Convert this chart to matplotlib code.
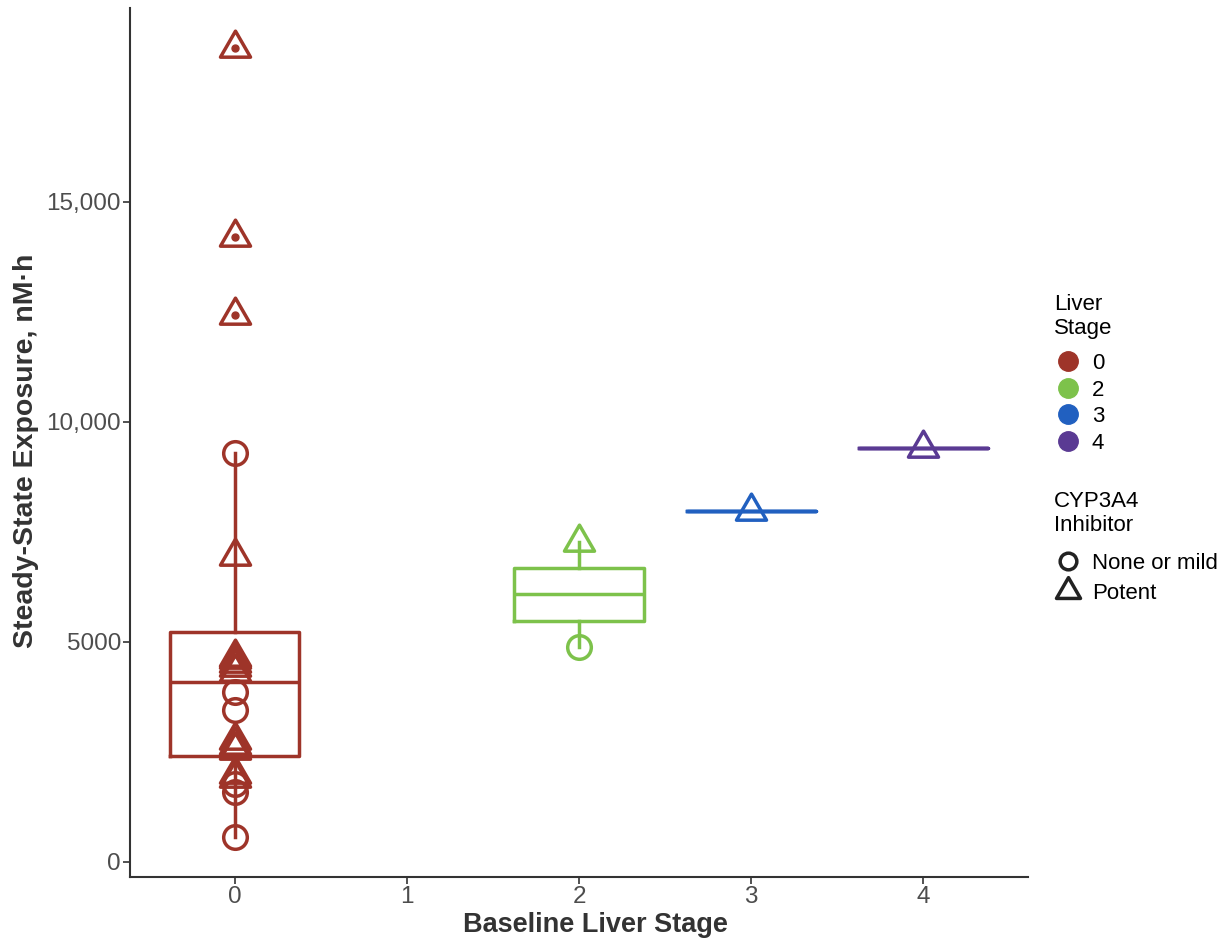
import numpy as np
import matplotlib.pyplot as plt
from matplotlib.path import Path
from matplotlib.lines import Line2D

plt.rcParams['font.family'] = ['Liberation Sans', 'DejaVu Sans']

# data
stages = [0, 2, 3, 4]
stage_labels = ['0', '2', '3', '4']
colors = ['#9E3429', '#7DC24B', '#2160C0', '#5A3A93']
none_mild = [
    [570, 1600, 1780, 3450, 3870, 9300],
    [4880],
    [],
    [],
]
potent = [
    [1900, 2000, 2545, 2650, 2780, 4312, 4430, 4520, 4600, 4660, 6950, 12430, 14200, 18500],
    [7280],
    [7980],
    [9410],
]
yticks = [0, 5000, 10000, 15000]
ytick_labels = ['0', '5000', '10,000', '15,000']

# triangle centred on its centroid, like ggplot's shape 2
tri = Path([(0, 2), (-1.732, -1), (1.732, -1), (0, 2)],
           [Path.MOVETO, Path.LINETO, Path.LINETO, Path.CLOSEPOLY])

fig = plt.figure(figsize=(12.31, 9.41), dpi=100)
ax = fig.add_axes([130 / 1231, 64 / 941, 898 / 1231, 869 / 941])

lw = 2.5
for st, col, a, b in zip(stages, colors, none_mild, potent):
    vals = a + b
    ax.boxplot([vals], positions=[st], widths=0.75, showcaps=False,
               boxprops=dict(color=col, lw=lw),
               whiskerprops=dict(color=col, lw=lw),
               medianprops=dict(color=col, lw=lw),
               flierprops=dict(marker='o', mfc=col, mec=col, ms=5))
    if a:
        ax.plot([st] * len(a), a, ls='none', marker='o', ms=17, mfc='none',
                mec=col, mew=lw, zorder=4)
    if b:
        ax.plot([st] * len(b), b, ls='none', marker=tri, ms=25, mfc='none',
                mec=col, mew=lw, zorder=4)

ax.set_xlim(-0.61, 4.61)
ax.set_ylim(-341, 19400)
ax.set_xticks([0, 1, 2, 3, 4])
ax.set_xticklabels(['0', '1', '2', '3', '4'])
ax.set_yticks(yticks)
ax.set_yticklabels(ytick_labels)
for s in ['top', 'right']:
    ax.spines[s].set_visible(False)
for s in ['left', 'bottom']:
    ax.spines[s].set_color('#333333')
    ax.spines[s].set_linewidth(1.5)
ax.tick_params(colors='#333333', labelcolor='#4D4D4D', length=5, width=1.2,
               labelsize=17.5, pad=1.5)
ax.set_xlabel('Baseline Liver Stage', fontsize=19.5, fontweight='bold',
              color='#333333')
ax.set_ylabel('Steady-State Exposure, nM·h', fontsize=20.5, fontweight='bold',
              color='#333333')
ax.xaxis.set_label_coords(0.518, -0.040)
ax.yaxis.set_label_coords(-0.101, 0.491)

h1 = [Line2D([], [], ls='none', marker='o', ms=14, mfc=c, mec=c) for c in colors]
leg1 = fig.legend(h1, stage_labels, title='Liver\nStage', loc='upper left',
                  bbox_to_anchor=(1045 / 1231, 1 - 285 / 941), frameon=False,
                  fontsize=16, title_fontsize=16, labelspacing=0.25,
                  handletextpad=0.4, handlelength=1.3, borderaxespad=0)
leg1._legend_box.align = 'left'
leg1._legend_box.sep = 10

h2 = [Line2D([], [], ls='none', marker='o', ms=12, mfc='none', mec='#222222', mew=2.5),
      Line2D([], [], ls='none', marker=tri, ms=20, mfc='none', mec='#222222', mew=2.5)]
leg2 = fig.legend(h2, ['None or mild', 'Potent'], title='CYP3A4\nInhibitor',
                  loc='upper left', bbox_to_anchor=(1045 / 1231, 1 - 482 / 941),
                  frameon=False, fontsize=16, title_fontsize=16, labelspacing=0.42,
                  handletextpad=0.4, handlelength=1.3, borderaxespad=0)
leg2._legend_box.align = 'left'
leg2._legend_box.sep = 12

fig.savefig('out.png', dpi=100)
